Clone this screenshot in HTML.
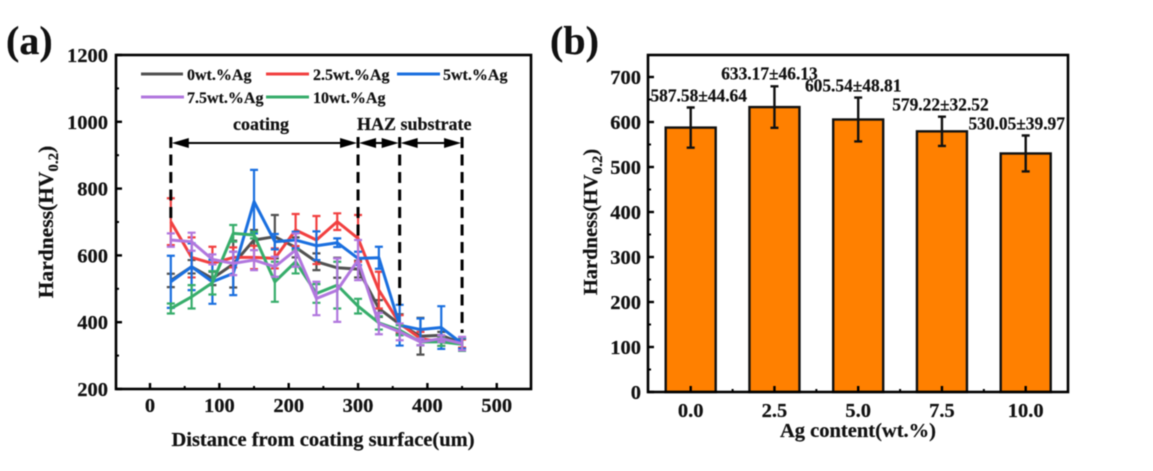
<!DOCTYPE html>
<html lang="en">
<head>
<meta charset="utf-8">
<title>Hardness charts</title>
<style>
html,body{margin:0;padding:0;background:#fff;width:1153px;height:471px;overflow:hidden}
svg{display:block;filter:blur(0.45px)}
text{font-family:"Liberation Serif",serif;font-weight:bold;fill:#111;stroke:#111;stroke-width:.2px}
.tick{font-size:20.5px}
.title{font-size:20.5px}
.leg{font-size:16px}
.note{font-size:18px}
.val{font-size:17.4px;text-anchor:middle}
.val0{transform:translateX(8px)}
.val1{transform:translate(-5px,-1px)}
.val2{transform:translateX(-5px)}
.val3{transform:translateX(-1.5px)}
.val4{transform:translateX(-9px)}
</style>
</head>
<body>
<svg id="fig" xmlns="http://www.w3.org/2000/svg" width="1153" height="471" viewBox="0 0 1153 471">
  <text x="6" y="54" font-size="40">(a)</text>
  <text x="550" y="54" font-size="40">(b)</text>

  <g id="a-plot"></g>
  <g id="b-plot"></g>

  <text class="title" x="323" y="446" text-anchor="middle">Distance from coating surface(um)</text>
  <text font-size="21.5" text-anchor="middle" transform="translate(53,222) rotate(-90)">Hardness(HV<tspan font-size="15" dy="5">0.2</tspan><tspan dy="-5">)</tspan></text>
  <text class="title" x="858" y="437" text-anchor="middle">Ag content(wt.%)</text>
  <text font-size="20.5" text-anchor="middle" transform="translate(597,222) rotate(-90)">Hardness(HV<tspan font-size="15" dy="5">0.2</tspan><tspan dy="-5">)</tspan></text>

  <g>
    <line x1="141" x2="183" y1="74" y2="74" stroke="#515151" stroke-width="3"/>
    <text class="leg" x="187" y="80">0wt.%Ag</text>
    <line x1="266" x2="309" y1="74" y2="74" stroke="#F14040" stroke-width="3"/>
    <text class="leg" x="313" y="80">2.5wt.%Ag</text>
    <line x1="397" x2="440" y1="74" y2="74" stroke="#1A6FDF" stroke-width="3"/>
    <text class="leg" x="443" y="80">5wt.%Ag</text>
    <line x1="141" x2="184" y1="97" y2="97" stroke="#B177DE" stroke-width="3"/>
    <text class="leg" x="187" y="103">7.5wt.%Ag</text>
    <line x1="266" x2="309" y1="97" y2="97" stroke="#37AD6B" stroke-width="3"/>
    <text class="leg" x="313" y="103">10wt.%Ag</text>
  </g>

  <text class="note" x="233" y="130">coating</text>
  <text class="note" x="357" y="130">HAZ substrate</text>
  <g id="regions"></g>
</svg>

<script>
// Panel (a) data
const distances = [30, 60, 90, 120, 150, 180, 210, 240, 270, 300, 330, 360, 390, 420, 450];
const xTicksA = [0, 100, 200, 300, 400, 500];
const xMinorA = [50, 150, 250, 350, 450];
const yTicksA = [200, 400, 600, 800, 1000, 1200];
const yMinorA = [300, 500, 700, 900, 1100];
const regionBounds = [30, 300, 360, 450];
const regionDashEnds = [706, 640, 445, 368];

const gray0 = [525, 566, 531, 574, 646, 656, 624, 581, 563, 559, 441, 394, 358, 361, 336];
const gray0Err = [20, 20, 20, 70, 30, 65, 30, 25, 30, 25, 25, 30, 55, 10, 15];
const red25 = [701, 594, 576, 594, 594, 591, 676, 646, 701, 651, 496, 396, 351, 341, 336];
const red25Err = [70, 60, 50, 30, 35, 30, 48, 72, 25, 70, 55, 25, 20, 12, 12];
const blue5 = [521, 566, 521, 546, 761, 641, 646, 629, 638, 591, 593, 391, 378, 384, 336];
const blue5Err = [78, 70, 66, 65, 95, 23, 25, 43, 13, 20, 33, 61, 33, 64, 15];
const green10 = [441, 476, 518, 666, 661, 521, 581, 486, 511, 448, 398, 376, 341, 341, 334];
const green10Err = [15, 35, 35, 25, 10, 60, 35, 28, 70, 22, 20, 15, 10, 12, 20];
const purple75 = [646, 641, 588, 576, 586, 566, 616, 471, 496, 586, 396, 371, 341, 351, 336];
const purple75Err = [20, 27, 15, 35, 30, 30, 50, 50, 95, 60, 32, 25, 10, 10, 20];

// Panel (b) data
const contents = ["0.0", "2.5", "5.0", "7.5", "10.0"];
const hardnessMeans = [587.58, 633.17, 605.54, 579.22, 530.05];
const hardnessErrs = [44.64, 46.13, 48.81, 32.52, 39.97];
const yTicksB = [0, 100, 200, 300, 400, 500, 600, 700];
const yMinorB = [50, 150, 250, 350, 450, 550, 650];

const NS = "http://www.w3.org/2000/svg";
const xA = v => 150 + (v - 0) * 0.6935;
const yA = v => 389 - (v - 200) * 0.334;
const yB = v => 392 - v * 0.45;
const xB = i => 690.7 + i * 83.75;

function mk(parent, tag, attrs, txt) {
  const e = document.createElementNS(NS, tag);
  for (const k in attrs) e.setAttribute(k, attrs[k]);
  if (txt !== undefined) e.textContent = txt;
  parent.appendChild(e);
  return e;
}
function ln(parent, x1, y1, x2, y2, stroke, w) {
  return mk(parent, "line", {x1: x1, y1: y1, x2: x2, y2: y2, stroke: stroke, "stroke-width": w});
}

const pa = document.getElementById("a-plot");
const pb = document.getElementById("b-plot");

// ---- Panel (a) series
const seriesList = [
  ["0wt", "#515151", gray0, gray0Err],
  ["2-5wt", "#F14040", red25, red25Err],
  ["5wt", "#1A6FDF", blue5, blue5Err],
  ["10wt", "#37AD6B", green10, green10Err],
  ["7-5wt", "#B177DE", purple75, purple75Err]
];
seriesList.forEach(s => {
  const g = mk(pa, "g", {});
  
  
  distances.forEach((d, i) => {
    const x = xA(d), hi = yA(s[2][i] + s[3][i]), lo = yA(s[2][i] - s[3][i]);
    const eb = mk(g, "path", {
      d: "M" + (x - 4) + " " + hi + "H" + (x + 4) + "M" + x + " " + hi + "V" + lo + "M" + (x - 4) + " " + lo + "H" + (x + 4),
      fill: "none", stroke: s[1], "stroke-width": 2.2
    });
    
    
  });
  const pts = distances.map((d, i) => xA(d) + "," + yA(s[2][i])).join(" ");
  const pl = mk(g, "polyline", {points: pts, fill: "none", stroke: s[1], "stroke-width": 3, "stroke-linejoin": "round"});
  
  
});

// ---- Panel (a) axes
const frameA = mk(pa, "rect", {x: 116, y: 55, width: 415, height: 334, fill: "none", stroke: "#000", "stroke-width": 2.6});


xTicksA.forEach(v => {
  const t = ln(pa, xA(v), 389, xA(v), 383, "#000", 2.4);
  
  
  const l = mk(pa, "text", {class: "tick", x: xA(v), y: 412, "text-anchor": "middle"}, String(v));
  
  
});
xMinorA.forEach(v => {
  const t = ln(pa, xA(v), 389, xA(v), 386, "#000", 2);
  
  
});
yTicksA.forEach(v => {
  const t = ln(pa, 116, yA(v), 122, yA(v), "#000", 2.4);
  
  
  const l = mk(pa, "text", {class: "tick", x: 108, y: yA(v) + 7, "text-anchor": "end"}, String(v));
  
  
});
yMinorA.forEach(v => {
  const t = ln(pa, 116, yA(v), 119, yA(v), "#000", 2);
  
  
});

// ---- Region annotation
const rg = document.getElementById("regions");
regionBounds.forEach((b, i) => {
  const d = mk(rg, "line", {x1: xA(b), x2: xA(b), y1: 137, y2: yA(regionDashEnds[i]), stroke: "#000", "stroke-width": 3, "stroke-dasharray": "11 6.5"});
  
  
});
regionBounds.slice(0, -1).forEach((b, i) => {
  const x1 = xA(b) + 1, x2 = xA(regionBounds[i + 1]) - 1, y = 143;
  const a = mk(rg, "path", {d: "M" + x1 + " " + y + "l17 -5v10zM" + x2 + " " + y + "l-17 -5v10z", fill: "#000"});
  
  
  const s = ln(rg, x1 + 10, y, x2 - 10, y, "#000", 2);
  
  
});

// ---- Panel (b) bars
contents.forEach((c, i) => {
  const x = xB(i), top = yB(hardnessMeans[i]);
  const r = mk(pb, "rect", {x: x - 25, y: top, width: 50, height: 392 - top, fill: "#FF8000", stroke: "#111", "stroke-width": 2.4});
  
  
  const hi = yB(hardnessMeans[i] + hardnessErrs[i]), lo = yB(hardnessMeans[i] - hardnessErrs[i]);
  const eb = mk(pb, "path", {
    d: "M" + (x - 4) + " " + hi + "H" + (x + 4) + "M" + x + " " + hi + "V" + lo + "M" + (x - 4) + " " + lo + "H" + (x + 4),
    fill: "none", stroke: "#111", "stroke-width": 2.4
  });
  
  
  const lab = mk(pb, "text", {class: "val val" + i, x: x, y: hi - 6},
    hardnessMeans[i].toFixed(2) + "\u00B1" + hardnessErrs[i].toFixed(2));
  
  
  const t = ln(pb, x, 392, x, 386, "#000", 2.4);
  
  
  const l = mk(pb, "text", {class: "tick", x: x, y: 417, "text-anchor": "middle"}, c);
  
  
  if (i < contents.length - 1) {
    const m = ln(pb, x + 41.9, 392, x + 41.9, 389, "#000", 2);
    
    
  }
});

// ---- Panel (b) axes
const frameB = mk(pb, "rect", {x: 648, y: 55, width: 420, height: 337, fill: "none", stroke: "#000", "stroke-width": 2.6});


yTicksB.forEach(v => {
  const t = ln(pb, 648, yB(v), 654, yB(v), "#000", 2.4);
  
  
  const l = mk(pb, "text", {class: "tick", x: 641, y: yB(v) + 7, "text-anchor": "end"}, String(v));
  
  
});
yMinorB.forEach(v => {
  const t = ln(pb, 648, yB(v), 651, yB(v), "#000", 2);
  
  
});
</script>
</body>
</html>
